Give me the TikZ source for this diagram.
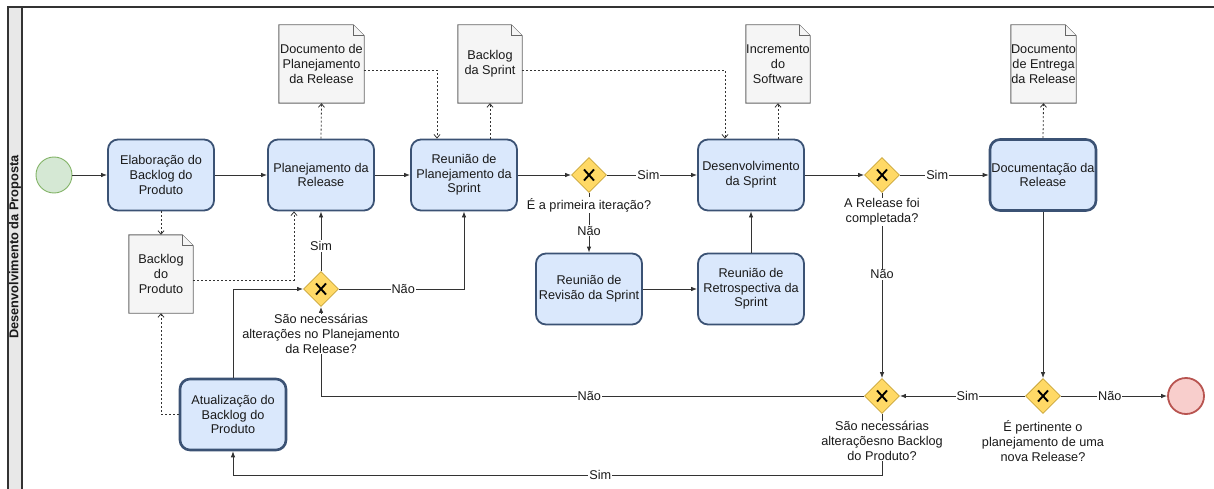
\documentclass[tikz,border=0pt]{standalone}
\usepackage{fontspec}
\setmainfont{Liberation Sans}
\usetikzlibrary{shapes.geometric,arrows.meta,backgrounds,calc}
\definecolor{taskfill}{HTML}{DAE8FC}
\definecolor{taskdraw}{HTML}{3B5274}
\definecolor{docfill}{HTML}{F5F5F5}
\definecolor{docdraw}{HTML}{666666}
\definecolor{gwfill}{HTML}{FFD966}
\definecolor{gwdraw}{HTML}{C9A53A}
\definecolor{startfill}{HTML}{D5E8D4}
\definecolor{startdraw}{HTML}{82B366}
\definecolor{endfill}{HTML}{F8CECC}
\definecolor{enddraw}{HTML}{B85450}
\definecolor{linec}{HTML}{333333}
\definecolor{txt}{HTML}{1A1A1A}
\definecolor{poolfill}{HTML}{E8E8E8}
\newcommand\mydocshape[1]{%
  \begin{scope}[on background layer]
    \draw[docline] (#1.north west) -- ($(#1.north east)+(-11,0)$) -- ($(#1.north east)+(0,11)$) -- (#1.south east) -- (#1.south west) -- cycle;
    \draw[docline] ($(#1.north east)+(-11,0)$) -- ($(#1.north east)+(-11,11)$) -- ($(#1.north east)+(0,11)$);
  \end{scope}}
\begin{document}
\begin{tikzpicture}[x=1pt,y=-1pt,
  font=\fontsize{12.7}{14.7}\selectfont, text=txt,
  task/.style={draw=taskdraw, fill=taskfill, line width=1.8pt, rounded corners=10pt,
    minimum width=106pt, minimum height=71pt, inner sep=0pt, align=center},
  taskb/.style={task, line width=2.6pt},
  docnode/.style={minimum width=#1, minimum height=78pt, inner sep=0pt, align=center},
  docline/.style={draw=docdraw, fill=docfill, line width=0.9pt},
  gw/.style={diamond, aspect=1, minimum width=35pt, minimum height=35pt, inner sep=0pt,
    draw=gwdraw, fill=gwfill, line width=0.8pt,
    path picture={\draw[line width=1.9pt, black]
      ($(path picture bounding box.center)+(-5,-5.5)$) -- ($(path picture bounding box.center)+(5,5.5)$)
      ($(path picture bounding box.center)+(-5,5.5)$) -- ($(path picture bounding box.center)+(5,-5.5)$);}},
  gwl/.style={fill=white, inner sep=1pt, align=center},
  el/.style={fill=white, inner sep=1pt},
  flow/.style={draw=linec, line width=0.8pt, -{Latex[length=6pt,width=4.5pt]}},
  assoc/.style={draw=linec, line width=0.8pt, dash pattern=on 2pt off 2pt, -{Straight Barb[length=3.5pt,width=6pt]}},
]
\useasboundingbox (0,0) rectangle (1214,489);
% pool
\fill[poolfill] (8,7) rectangle (22,490);
\draw[linec, line width=1.2pt] (8,490) -- (8,7) -- (1214,7);
\draw[linec, line width=1.2pt] (22,7) -- (22,490);
\node[rotate=90, font=\bfseries\fontsize{12.8}{14.7}\selectfont] (pool) at (15,247) {Desenvolvimento da Proposta};

% events
\node[circle, minimum size=36pt, inner sep=0pt, draw=startdraw, fill=startfill, line width=0.9pt] (start) at (54,175) {};
\node[circle, minimum size=36pt, inner sep=0pt, draw=enddraw, fill=endfill, line width=1.8pt] (end) at (1186,396) {};

% tasks
\node[task] (elab) at (161,175) {Elaboração do\\Backlog do\\Produto};
\node[task] (plan) at (321,175) {Planejamento da\\Release};
\node[task] (rps) at (464,175) {Reunião de\\Planejamento da\\Sprint};
\node[task] (dev) at (751,175) {Desenvolvimento\\da Sprint};
\node[taskb] (docr) at (1043,175) {Documentação da\\Release};
\node[task] (rev) at (589,289) {Reunião de\\Revisão da Sprint};
\node[task] (retro) at (751,289) {Reunião de\\Retrospectiva da\\Sprint};
\node[taskb] (atual) at (233,414.5) {Atualização do\\Backlog do\\Produto};

% documents
\node[docnode=85pt] (dplan) at (321.5,64) {Documento de\\Planejamento\\da Release};
\node[docnode=64pt] (bsprint) at (490,64) {Backlog\\da Sprint};
\node[docnode=64pt] (incr) at (778,64) {Incremento\\do\\Software};
\node[docnode=65pt] (entrega) at (1043.5,64) {Documento\\de Entrega\\da Release};
\node[docnode=64pt] (bprod) at (161,274) {Backlog\\do\\Produto};
\mydocshape{dplan}
\mydocshape{bsprint}
\mydocshape{incr}
\mydocshape{entrega}
\mydocshape{bprod}

% gateways
\node[gw] (g1) at (589,175) {};
\node[gw] (g2) at (882,175) {};
\node[gw] (g3) at (321,289) {};
\node[gw] (g4) at (882,396) {};
\node[gw] (g5) at (1043,396) {};

% sequence flows
\draw[flow] (start) -- (elab);
\draw[flow] (elab) -- (plan);
\draw[flow] (plan) -- (rps);
\draw[flow] (rps) -- (g1);
\draw[flow] (g1) -- node[el, pos=0.46] (l1) {Sim} (dev);
\draw[flow] (g1) -- node[el, pos=0.63] (l2) {Não} (rev);
\draw[flow] (rev) -- (retro);
\draw[flow] (retro) -- (dev);
\draw[flow] (dev) -- (g2);
\draw[flow] (g2) -- node[el, pos=0.42] (l3) {Sim} (docr);
\draw[flow] (g2) -- node[el, pos=0.44] (l4) {Não} (g4);
\draw[flow] (docr) -- (g5);
\draw[flow] (g5) -- node[el, pos=0.46] (l5) {Não} (end);
\draw[flow] (g5) -- node[el, pos=0.46] (l6) {Sim} (g4);
\draw[flow] (g4.west) -| node[el, pos=0.253] (l7) {Não} (g3.south);
\draw[flow] (g4.south) -- ++(0,61) coordinate (c1) -| node[el, pos=0.217] (l8) {Sim} (atual.south);
\draw[flow] (atual.north) |- (g3.west);
\draw[flow] (g3.north) -- node[el, pos=0.42] (l9) {Sim} (plan.south);
\draw[flow] (g3.east) -| node[el, pos=0.257] (l10) {Não} (rps.south);

% associations
\draw[assoc] (plan.north) -- (dplan.south);
\draw[assoc] ($(dplan.east)+(0,6)$) -| ($(rps.north)+(-27,0)$);
\draw[assoc] (bsprint.south |- rps.north) -- (bsprint.south);
\draw[assoc] ($(bsprint.east)+(0,6)$) -| ($(dev.north)+(-26,0)$);
\draw[assoc] (incr.south |- dev.north) -- (incr.south);
\draw[assoc] (docr.north) -- (entrega.south);
\draw[assoc] (elab.south) -- (bprod.north);
\draw[assoc] ($(bprod.east)+(0,6)$) -| ($(plan.south)+(-27,0)$);
\draw[assoc] (atual.west) -| (bprod.south);

% gateway labels
\node[gwl] (t1) at (589,205) {É a primeira iteração?};
\node[gwl] (t2) at (882,212) {A Release foi\\completada?};
\node[gwl] (t3) at (321,334) {São necessárias\\alterações no Planejamento\\da Release?};
\node[gwl] (t4) at (882,441) {São necessárias\\alteraçõesno Backlog\\do Produto?};
\node[gwl] (t5) at (1043,441) {É pertinente o\\planejamento de uma\\nova Release?};
\end{tikzpicture}
\end{document}
